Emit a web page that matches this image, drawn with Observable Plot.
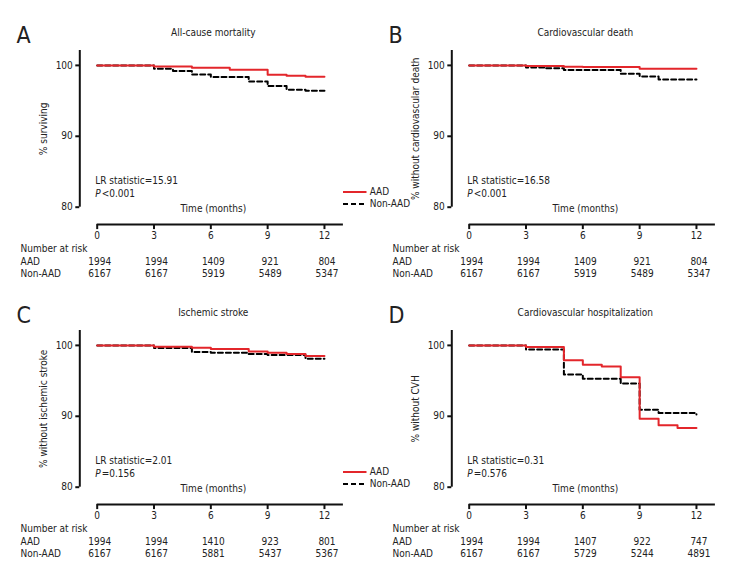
<!DOCTYPE html>
<html><head><meta charset="utf-8">
<script src="https://cdn.jsdelivr.net/npm/d3@7"></script>
<script src="https://cdn.jsdelivr.net/npm/@observablehq/plot@0.6"></script>
<style>
body{margin:0;background:#fff;}
#fig{position:relative;width:744px;height:588px;font-family:"Liberation Sans Narrow","Arial Narrow","DejaVu Sans Condensed",sans-serif;color:#222;}
.panel{position:absolute;}
.legend{position:absolute;font-size:10px;line-height:12px;}
.legend div{display:flex;align-items:center;height:12px;}
.legend svg{margin-right:3px;}
</style>
</head><body><div id="fig"></div>
<script>
const FONT = '"Liberation Sans Narrow","Arial Narrow","DejaVu Sans Condensed",sans-serif';
const RED = "#e3262b";
const FS = 10;
const xTicks = [0, 3, 6, 9, 12];
const yTicks = [80, 90, 100];
const groups = ["AAD", "Non-AAD"];

// Panel A: All-cause mortality
const aTitle = "All-cause mortality", aYLabel = "% surviving";
const aLR = "LR statistic=15.91", aP = "<0.001";
const aAADt = [0, 3, 5, 7, 9, 10, 11, 12];
const aAADs = [100, 99.86, 99.68, 99.39, 98.69, 98.55, 98.41, 98.41];
const aNont = [0, 3, 4, 5, 6, 8, 9, 10, 11, 12];
const aNons = [100, 99.53, 99.2, 98.73, 98.35, 97.74, 97.08, 96.57, 96.43, 96.43];
const aRiskAAD = ["1994", "1994", "1409", "921", "804"];
const aRiskNon = ["6167", "6167", "5919", "5489", "5347"];

// Panel B: Cardiovascular death
const bTitle = "Cardiovascular death", bYLabel = "% without cardiovascular death";
const bLR = "LR statistic=16.58", bP = "<0.001";
const bAADt = [0, 3, 5, 6, 9, 12];
const bAADs = [100, 99.9, 99.81, 99.76, 99.53, 99.53];
const bNont = [0, 3, 4, 5, 8, 9, 10, 12];
const bNons = [100, 99.72, 99.58, 99.34, 98.82, 98.45, 98.02, 98.02];
const bRiskAAD = ["1994", "1994", "1409", "921", "804"];
const bRiskNon = ["6167", "6167", "5919", "5489", "5347"];

// Panel C: Ischemic stroke
const cTitle = "Ischemic stroke", cYLabel = "% without ischemic stroke";
const cLR = "LR statistic=2.01", cP = "=0.156";
const cAADt = [0, 3, 5, 6, 8, 9, 10, 11, 12];
const cAADs = [100, 99.81, 99.67, 99.48, 99.15, 98.97, 98.78, 98.5, 98.5];
const cNont = [0, 3, 5, 6, 8, 9, 11, 12];
const cNons = [100, 99.62, 99.06, 98.97, 98.8, 98.65, 98.1, 98.1];
const cRiskAAD = ["1994", "1994", "1410", "923", "801"];
const cRiskNon = ["6167", "6167", "5881", "5437", "5367"];

// Panel D: Cardiovascular hospitalization
const dTitle = "Cardiovascular hospitalization", dYLabel = "% without CVH";
const dLR = "LR statistic=0.31", dP = "=0.576";
const dAADt = [0, 3, 5, 6, 7, 8, 9, 10, 11, 12];
const dAADs = [100, 99.76, 97.92, 97.26, 97.03, 95.52, 89.67, 88.73, 88.35, 88.35];
const dNont = [0, 3, 5, 6, 8, 9, 10, 12];
const dNons = [100, 99.43, 95.9, 95.28, 94.62, 90.94, 90.47, 90.24];
const dRiskAAD = ["1994", "1994", "1407", "922", "747"];
const dRiskNon = ["6167", "6167", "5729", "5244", "4891"];

const panels = [
  {letter: "A", left: 0, top: 0, title: aTitle, ylabel: aYLabel, lr: aLR, p: aP, at: aAADt, as: aAADs, nt: aNont, ns: aNons, ra: aRiskAAD, rn: aRiskNon, legend: true},
  {letter: "B", left: 372, top: 0, title: bTitle, ylabel: bYLabel, lr: bLR, p: bP, at: bAADt, as: bAADs, nt: bNont, ns: bNons, ra: bRiskAAD, rn: bRiskNon},
  {letter: "C", left: 0, top: 280, title: cTitle, ylabel: cYLabel, lr: cLR, p: cP, at: cAADt, as: cAADs, nt: cNont, ns: cNons, ra: cRiskAAD, rn: cRiskNon, legend: true},
  {letter: "D", left: 372, top: 280, title: dTitle, ylabel: dYLabel, lr: dLR, p: dP, at: dAADt, as: dAADs, nt: dNont, ns: dNons, ra: dRiskAAD, rn: dRiskNon}
];

const ML = 96.7, MT = 50, W = 372, H = 292, FB = 206.7;
const OFF = 17.4;

function makePanel(p) {
  const aad = p.at.map((t, i) => ({t, s: p.as[i]}));
  const non = p.nt.map((t, i) => ({t, s: p.ns[i]}));
  const rows = xTicks.map((t, i) => ({t, a: p.ra[i], n: p.rn[i]}));
  const txt = {fill: "#222", fontSize: FS};
  return Plot.plot({
    width: W, height: H,
    marginLeft: ML, marginRight: 29.1, marginTop: MT, marginBottom: H - FB,
    style: {background: "transparent", overflow: "visible", fontFamily: FONT, fontSize: FS + "px", color: "#222"},
    x: {domain: [0, 13]},
    y: {domain: [80, 102.1]},
    marks: [
      Plot.ruleX([0], {y1: 80, y2: 102.1, dx: -OFF, strokeWidth: 2, stroke: "#111"}),
      Plot.axisY({ticks: yTicks, tickSize: 4, tickPadding: 3, dx: -OFF, strokeWidth: 2, stroke: "#111", label: null, fill: "#222", fontSize: FS}),
      Plot.ruleY([80], {x1: 0, x2: 13, dy: OFF, strokeWidth: 2, stroke: "#111"}),
      Plot.axisX({ticks: xTicks, tickSize: 5, tickPadding: 2, dy: OFF, strokeWidth: 2, stroke: "#111", label: null, fill: "#222", fontSize: FS}),
      Plot.line(non, {x: "t", y: "s", curve: "step-after", stroke: "#000", strokeWidth: 2, strokeDasharray: "5,3"}),
      Plot.line(aad, {x: "t", y: "s", curve: "step-after", stroke: RED, strokeWidth: 2}),
      Plot.text([p.letter], {...txt, frameAnchor: "top-left", textAnchor: "start", dx: 16 - ML, dy: 26 - MT, fontSize: 23}),
      Plot.text([p.title], {...txt, frameAnchor: "top", dx: -7, dy: 28 - MT}),
      Plot.text([p.ylabel], {...txt, frameAnchor: "left", textAnchor: "middle", rotate: -90, dx: 43 - ML}),
      Plot.text([p.lr], {...txt, frameAnchor: "bottom-left", textAnchor: "start", dx: -2, dy: 183.3 - FB}),
      Plot.text(["P"], {...txt, frameAnchor: "bottom-left", textAnchor: "start", dx: -2, dy: 196.7 - FB, fontStyle: "italic"}),
      Plot.text([p.p], {...txt, frameAnchor: "bottom-left", textAnchor: "start", dx: 4.5, dy: 196.7 - FB}),
      Plot.text(["Time (months)"], {...txt, frameAnchor: "bottom", dx: -7, dy: 211.7 - FB}),
      Plot.text(["Number at risk"], {...txt, frameAnchor: "bottom-left", textAnchor: "start", dx: 20 - ML, dy: 251.7 - FB}),
      Plot.text([groups[0]], {...txt, frameAnchor: "bottom-left", textAnchor: "start", dx: 20 - ML, dy: 264 - FB}),
      Plot.text([groups[1]], {...txt, frameAnchor: "bottom-left", textAnchor: "start", dx: 20 - ML, dy: 276.7 - FB}),
      Plot.text(rows, {...txt, x: "t", text: "a", frameAnchor: "bottom", dx: 2.5, dy: 264 - FB}),
      Plot.text(rows, {...txt, x: "t", text: "n", frameAnchor: "bottom", dx: 2.5, dy: 276.7 - FB})
    ]
  });
}

const fig = document.getElementById("fig");
for (const p of panels) {
  const div = document.createElement("div");
  div.className = "panel";
  div.style.left = p.left + "px";
  div.style.top = p.top + "px";
  div.appendChild(makePanel(p));
  fig.appendChild(div);
  if (p.legend) {
    const lg = document.createElement("div");
    lg.className = "legend";
    lg.style.left = (p.left + 342.7) + "px";
    lg.style.top = (p.top + 186.3) + "px";
    lg.innerHTML =
      `<div><svg width="24" height="4"><line x1="0" x2="23.5" y1="2" y2="2" stroke="${RED}" stroke-width="2"/></svg>${groups[0]}</div>` +
      `<div><svg width="24" height="4"><line x1="0" x2="24" y1="2" y2="2" stroke="#000" stroke-width="2" stroke-dasharray="5,3"/></svg>${groups[1]}</div>`;
    fig.appendChild(lg);
  }
}
</script>
</body></html>
